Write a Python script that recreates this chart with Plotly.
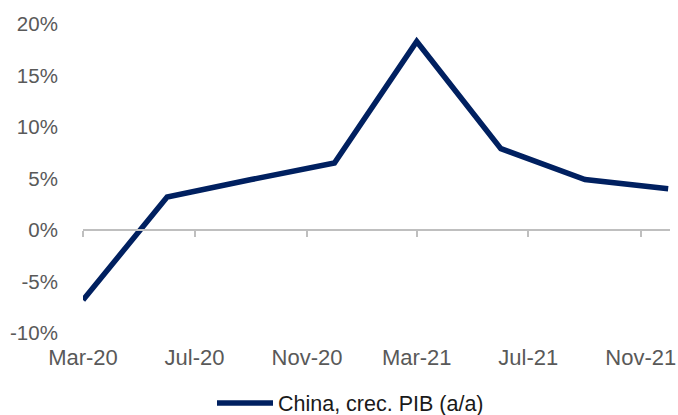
import plotly.graph_objects as go

dates = ["2020-03-01", "2020-06-01", "2020-09-01", "2020-12-01",
         "2021-03-01", "2021-06-01", "2021-09-01", "2021-12-01"]
gdp_growth = [-6.8, 3.2, 4.9, 6.5, 18.3, 7.9, 4.9, 4.0]
series_name = "China, crec. PIB (a/a)"
y_ticks = [-10, -5, 0, 5, 10, 15, 20]
y_labels = ["-10%", "-5%", "0%", "5%", "10%", "15%", "20%"]

FONT = "Liberation Sans"
GRAY = "#595959"

fig = go.Figure()
fig.add_trace(go.Scatter(
    x=dates, y=gdp_growth, mode="lines", name=series_name,
    line=dict(color="#002060", width=5.5), xaxis="x", yaxis="y",
))
# helper trace for the zero-line axis with tick marks
fig.add_trace(go.Scatter(
    x=[dates[0], dates[-1]], y=[0, 0], mode="lines", showlegend=False,
    line=dict(color="rgba(0,0,0,0)", width=0), xaxis="x2", yaxis="y",
    hoverinfo="skip",
))

xr = ["2020-03-01", "2021-12-03"]
fig.update_layout(
    width=678, height=415,
    margin=dict(l=83, r=8, t=24, b=82, autoexpand=False),
    paper_bgcolor="white", plot_bgcolor="white",
    font=dict(family=FONT, size=21, color=GRAY),
    xaxis=dict(
        type="date", range=xr, tick0="2020-03-01", dtick="M4",
        tickformat="%b-%y", showgrid=False, zeroline=False, showline=False,
        ticks="outside", ticklen=5, tickcolor="rgba(0,0,0,0)",
        tickfont=dict(size=22, color=GRAY), automargin=False,
        ticklabeloverflow="allow",
    ),
    xaxis2=dict(
        type="date", range=xr, tick0="2020-03-01", dtick="M4",
        overlaying="x", anchor="free", position=1/3,
        showgrid=False, zeroline=False, showline=True, linecolor="#BFBFBF",
        linewidth=2, ticks="outside", ticklen=6, tickwidth=2,
        tickcolor="#BFBFBF", showticklabels=False, automargin=False,
    ),
    yaxis=dict(
        range=[-10, 20], tickvals=y_ticks, ticktext=y_labels,
        showgrid=False, zeroline=False, showline=False,
        ticks="outside", ticklen=20, tickcolor="rgba(0,0,0,0)",
        tickfont=dict(size=20.5, color=GRAY), automargin=False,
    ),
    legend=dict(
        orientation="h", x=(212 - 83) / 587, xanchor="left",
        y=-(403 - 333) / 309, yanchor="middle", itemwidth=56,
        font=dict(size=21.5, color="#1a1a1a"), bgcolor="rgba(0,0,0,0)",
    ),
    showlegend=True,
)

fig.write_html(
    "out.html",
    config={"displayModeBar": False},
    post_script="document.body.style.margin='0';document.body.style.overflow='hidden';",
)
